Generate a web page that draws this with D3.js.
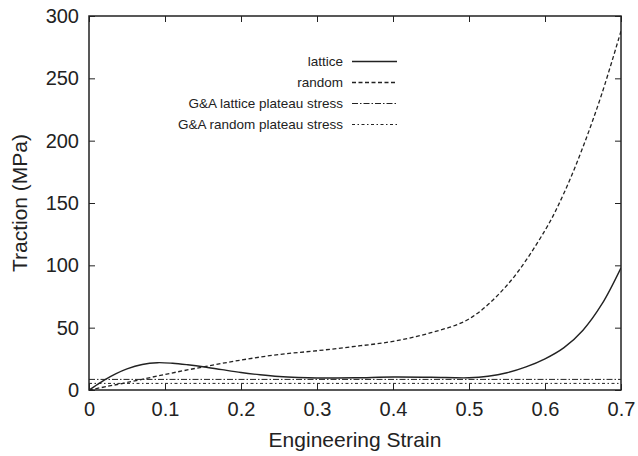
<!DOCTYPE html>
<html><head><meta charset="utf-8">
<script src="https://cdn.jsdelivr.net/npm/d3@7"></script>
<style>body{margin:0;background:#fff}svg{display:block}text{font-family:"Liberation Sans",Arial,sans-serif;fill:#222}</style>
</head><body><svg id="c" width="638" height="456"></svg>
<script>
const latticeStrain = [0,0.01,0.02,0.035,0.05,0.07,0.09,0.11,0.13,0.15,0.175,0.2,0.225,0.25,0.275,0.3,0.35,0.4,0.45,0.5,0.525,0.55,0.575,0.6,0.625,0.65,0.675,0.7];
const latticeStress = [0,4,8,13,17,20.5,21.9,21.4,20.2,18.7,16.3,14,12.2,10.8,10,9.6,9.8,10.4,10.2,9.8,11,13.8,18.5,25,34,48,69,98];
const randomStrain = [0,0.025,0.05,0.1,0.15,0.2,0.25,0.3,0.35,0.4,0.45,0.5,0.55,0.6,0.625,0.65,0.675,0.7];
const randomStress = [0,3,6,12.5,18.5,24,28.5,31.5,35,39,46,57,84,128,158,195,238,288];
const latticePlateau = 8.5;
const randomPlateau = 5.3;
const xTicks = [0,0.1,0.2,0.3,0.4,0.5,0.6,0.7];
const yTicks = [0,50,100,150,200,250,300];
const legendLabels = ["lattice","random","G&A lattice plateau stress","G&A random plateau stress"];

const svg = d3.select("#c");
const L=89,R=621,T=16,B=390;
const x = d3.scaleLinear().domain([0,0.7]).range([L,R]);
const y = d3.scaleLinear().domain([0,300]).range([B,T]);
const ink="#222";
const FS=20, TFS=21;

const g = svg.append("g");
const line = d3.line().x(d=>x(d[0])).y(d=>y(d[1])).curve(d3.curveCatmullRom.alpha(0.5));
const styles = [
  {dash:null,w:1.4},
  {dash:"4,2.5",w:1.3},
  {dash:"6,2,1.5,2",w:1},
  {dash:"3,2.5,1.5,2.5",w:1}
];
svg.append("clipPath").attr("id","cp").append("rect").attr("x",L).attr("y",T).attr("width",R-L).attr("height",B-T);
const pl = g.append("g").attr("clip-path","url(#cp)");
pl.append("path").datum(latticeStrain.map((s,i)=>[s,latticeStress[i]])).attr("d",line)
  .attr("fill","none").attr("stroke",ink).attr("stroke-width",styles[0].w);
pl.append("path").datum(randomStrain.map((s,i)=>[s,randomStress[i]])).attr("d",line)
  .attr("fill","none").attr("stroke",ink).attr("stroke-width",styles[1].w).attr("stroke-dasharray",styles[1].dash);
const straight = d3.line().x(d=>x(d[0])).y(d=>y(d[1]));
pl.append("path").datum([[0,latticePlateau],[0.7,latticePlateau]]).attr("d",straight)
  .attr("fill","none").attr("stroke",ink).attr("stroke-width",styles[2].w).attr("stroke-dasharray",styles[2].dash);
pl.append("path").datum([[0,randomPlateau],[0.7,randomPlateau]]).attr("d",straight)
  .attr("fill","none").attr("stroke",ink).attr("stroke-width",styles[3].w).attr("stroke-dasharray",styles[3].dash);

const tl=6;
const ax = d3.axisBottom(x).tickValues(xTicks).tickFormat(d=>d===0?"0":d3.format(".1f")(d)).tickSize(-tl).tickPadding(12);
const axB = svg.append("g").attr("transform",`translate(0,${B})`).call(ax);
const axT = svg.append("g").attr("transform",`translate(0,${T})`).call(d3.axisTop(x).tickValues(xTicks).tickSize(-tl).tickFormat(""));
const ay = d3.axisLeft(y).tickValues(yTicks).tickSize(-tl).tickPadding(10);
const axL = svg.append("g").attr("transform",`translate(${L},0)`).call(ay);
const axR = svg.append("g").attr("transform",`translate(${R},0)`).call(d3.axisRight(y).tickValues(yTicks).tickSize(-tl).tickFormat(""));
[axB,axT,axL,axR].forEach(a=>{a.select(".domain").remove();a.selectAll("line").attr("stroke",ink).attr("stroke-width",1);});
axB.selectAll("text").attr("font-size",FS).attr("fill",ink).attr("font-family","Liberation Sans, Arial, sans-serif");
axL.selectAll("text").attr("font-size",FS).attr("fill",ink).attr("font-family","Liberation Sans, Arial, sans-serif");
svg.append("rect").attr("x",L).attr("y",T).attr("width",R-L).attr("height",B-T).attr("fill","none").attr("stroke",ink).attr("stroke-width",1.5);

svg.append("text").attr("x",(L+R)/2).attr("y",447).attr("text-anchor","middle").attr("font-size",TFS).text("Engineering Strain");
svg.append("text").attr("transform",`translate(27,${(T+B)/2}) rotate(-90)`).attr("text-anchor","middle").attr("font-size",TFS).text("Traction (MPa)");

const lg = svg.append("g");
const ly0=61.5, ldy=21;
legendLabels.forEach((t,i)=>{
  const yy = ly0+i*ldy;
  lg.append("text").attr("x",343).attr("y",yy).attr("dy","0.35em").attr("text-anchor","end").attr("font-size",13.5).text(t);
  lg.append("line").attr("x1",352).attr("x2",397).attr("y1",yy).attr("y2",yy)
    .attr("stroke",ink).attr("stroke-width",styles[i].w).attr("stroke-dasharray",styles[i].dash);
});
</script></body></html>
